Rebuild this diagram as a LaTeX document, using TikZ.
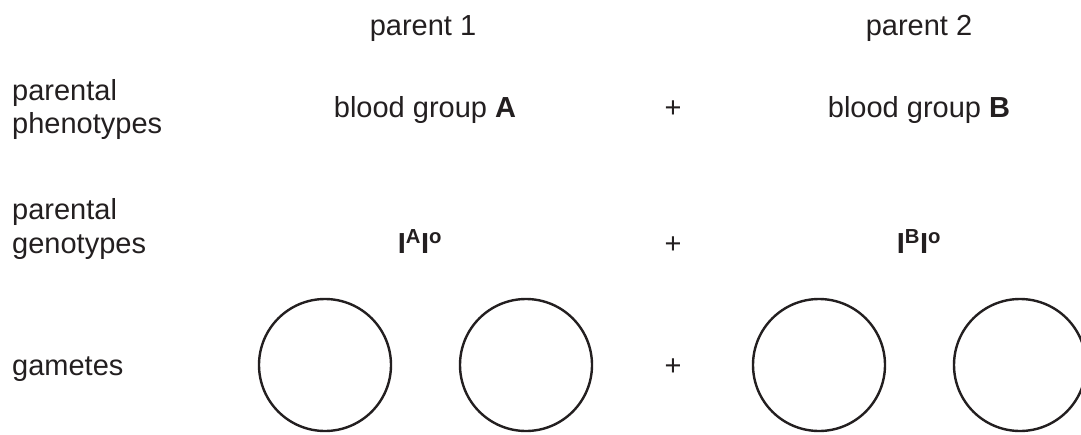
\documentclass[tikz,border=0pt]{standalone}
\usepackage{fontspec}
\setmainfont{Liberation Sans}
\definecolor{ink}{HTML}{231F20}
\begin{document}
\begin{tikzpicture}[x=1pt,y=-1pt,
  txt/.style={anchor=base, inner sep=0pt, text=ink, font=\fontsize{29}{34}\selectfont},
  lbl/.style={txt, anchor=base west},
  gamete/.style={circle, draw=ink, line width=2.4pt, inner sep=0pt, minimum size=132pt}]
\useasboundingbox[fill=white] (0,0) rectangle (1081,434);
% column heads
\node[txt] (p1) at (423,35) {parent 1};
\node[txt] (p2) at (919,35) {parent 2};
% row labels
\node[lbl] (ph1) at (12,100) {parental};
\node[lbl] (ph2) at (12,133) {phenotypes};
\node[lbl] (ge1) at (12,219) {parental};
\node[lbl] (ge2) at (12,253) {genotypes};
\node[lbl] (ga) at (12,375) {gametes};
% phenotypes
\node[txt] (bA) at (425,117) {blood group \textbf{A}};
\node[txt] (plus1) at (673,117) {+};
\node[txt] (bB) at (919,117) {blood group \textbf{B}};
% genotypes
\node[txt] (gA) at (420,253) {\textbf{I\textsuperscript{A}I\textsuperscript{o}}};
\node[txt] (plus2) at (673,253) {+};
\node[txt] (gB) at (919,253) {\textbf{I\textsuperscript{B}I\textsuperscript{o}}};
% gametes
\node[gamete] (c1) at (325,365) {};
\node[gamete] (c2) at (526,365) {};
\node[txt] (plus3) at (673,375) {+};
\node[gamete] (c3) at (819,365) {};
\node[gamete] (c4) at (1020,365) {};
\end{tikzpicture}
\end{document}
